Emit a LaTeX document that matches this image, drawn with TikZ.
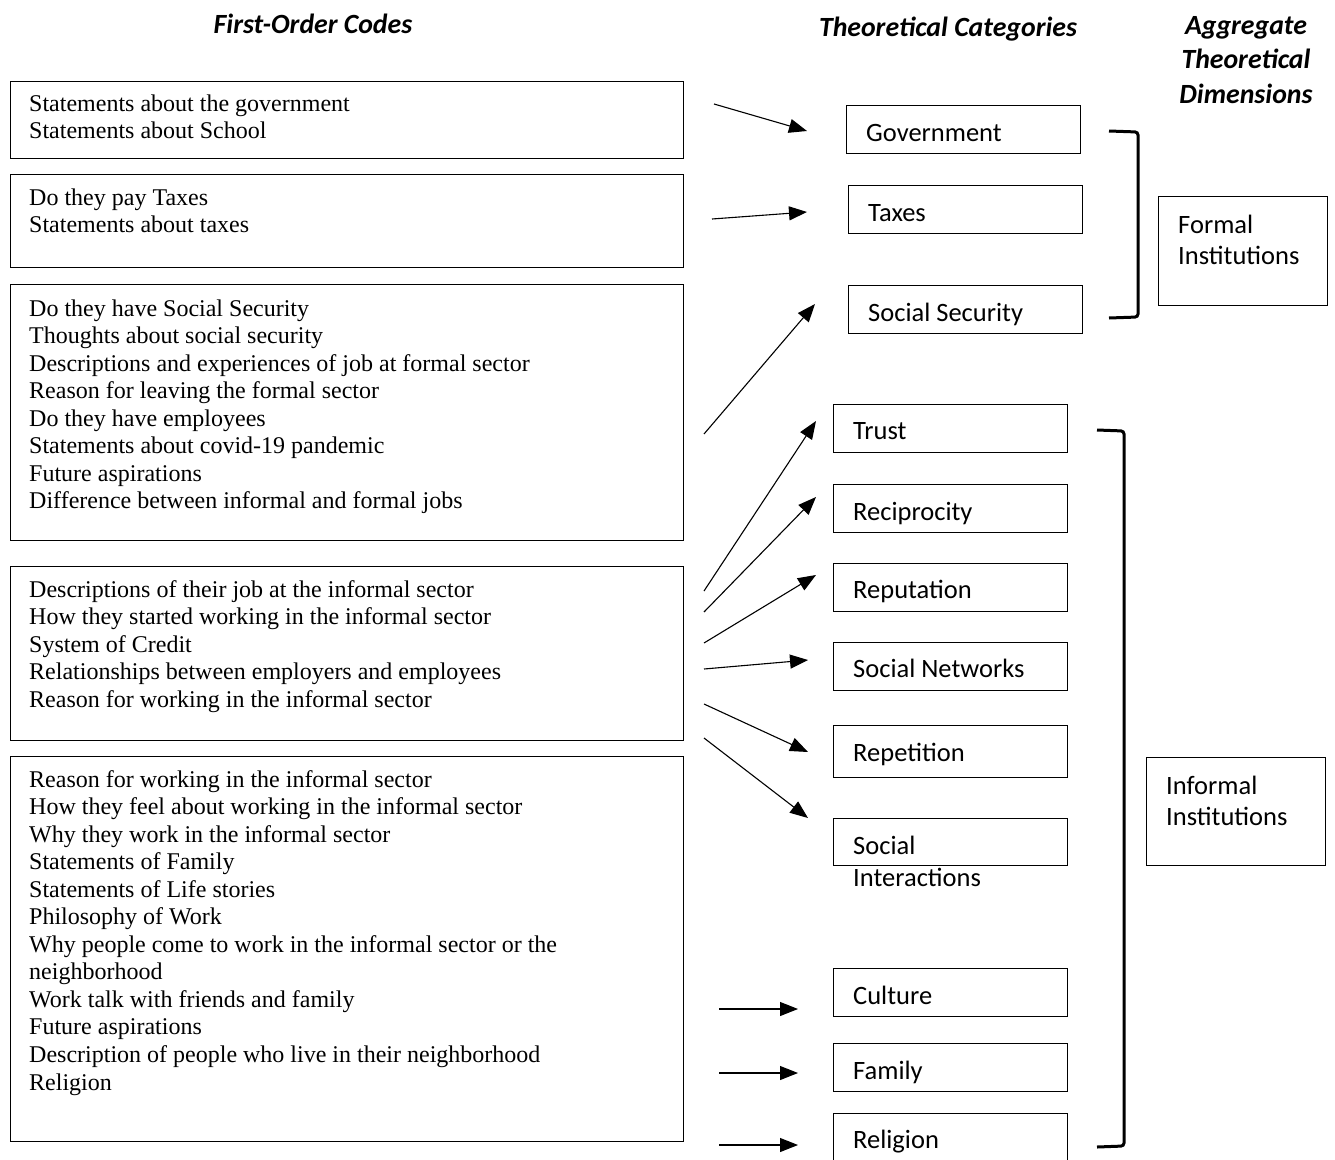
\documentclass[tikz,border=0pt]{standalone}
\usepackage{fontspec}
\setmainfont{Liberation Serif}
\newfontfamily\calfont{Carlito}
\usetikzlibrary{arrows.meta}
\begin{document}
\begin{tikzpicture}[x=1pt,y=-1pt,
  codebox/.style={draw, line width=1pt, anchor=north west, inner sep=0pt, rectangle},
  catbox/.style={draw, line width=1pt, anchor=north west, inner sep=0pt, rectangle, minimum width=234pt, minimum height=48pt},
  codetxt/.style={anchor=base west, align=left, inner sep=0pt, font=\fontsize{24}{27.55}\selectfont},
  cattxt/.style={anchor=base west, align=left, inner sep=0pt, font=\calfont\fontsize{26.5}{31}\selectfont},
  headtxt/.style={anchor=base, align=center, inner sep=0pt, font=\calfont\bfseries\itshape\fontsize{27.8}{34.5}\selectfont},
  arr/.style={line width=1.1pt, -{Triangle[length=18pt,width=14pt]}},
  brk/.style={line width=3pt, rounded corners=3pt}
]
\useasboundingbox (0,0) rectangle (1335,1159);
\clip (0,0) rectangle (1335,1159);

% headings (base anchor = baseline of the last line)
\node[headtxt] (h1) at (313,33) {First-Order Codes};
\node[headtxt] (h2) at (948,36) {Theoretical Categories};
\node[headtxt] (h3) at (1246,103) {Aggregate\\Theoretical\\Dimensions};

% first-order code boxes
\node[codebox, minimum width=673pt, minimum height=77pt] (c1) at (10,81) {};
\node[codetxt] (c1t) at (29,138.55) {Statements about the government\\Statements about School};
\node[codebox, minimum width=673pt, minimum height=93pt] (c2) at (10,174) {};
\node[codetxt] (c2t) at (29,232.55) {Do they pay Taxes\\Statements about taxes};
\node[codebox, minimum width=673pt, minimum height=256pt] (c3) at (10,284) {};
\node[codetxt] (c3t) at (29,508.85) {Do they have Social Security\\Thoughts about social security\\Descriptions and experiences of job at formal sector\\Reason for leaving the formal sector\\Do they have employees\\Statements about covid-19 pandemic\\Future aspirations\\Difference between informal and formal jobs};
\node[codebox, minimum width=673pt, minimum height=174pt] (c4) at (10,566) {};
\node[codetxt] (c4t) at (29,707.2) {Descriptions of their job at the informal sector\\How they started working in the informal sector\\System of Credit\\Relationships between employers and employees\\Reason for working in the informal sector};
\node[codebox, minimum width=673pt, minimum height=385pt] (c5) at (10,756) {};
\node[codetxt] (c5t) at (29,1090.05) {Reason for working in the informal sector\\How they feel about working in the informal sector\\Why they work in the informal sector\\Statements of Family\\Statements of Life stories\\Philosophy of Work\\Why people come to work in the informal sector or the\\neighborhood\\Work talk with friends and family\\Future aspirations\\Description of people who live in their neighborhood\\Religion};

% theoretical categories
\node[catbox] (gov) at (846,105) {};
\node[cattxt] (govt) at (866,141) {Government};
\node[catbox] (tax) at (848,185) {};
\node[cattxt] (taxt) at (868,221) {Taxes};
\node[catbox] (ss) at (848,285) {};
\node[cattxt] (sst) at (868,321) {Social Security};
\node[catbox] (tru) at (833,404) {};
\node[cattxt] (trut) at (853,439) {Trust};
\node[catbox] (rec) at (833,484) {};
\node[cattxt] (rect) at (853,520) {Reciprocity};
\node[catbox] (rep) at (833,563) {};
\node[cattxt] (rept) at (853,598) {Reputation};
\node[catbox] (sn) at (833,642) {};
\node[cattxt] (snt) at (853,677) {Social Networks};
\node[catbox, minimum height=52pt] (rpt) at (833,725) {};
\node[cattxt] (rptt) at (853,761) {Repetition};
\node[catbox, minimum height=47pt] (si) at (833,818) {};
\node[cattxt, font=\calfont\fontsize{26.5}{32}\selectfont] (sit) at (853,886) {Social\\Interactions};
\node[catbox] (cul) at (833,968) {};
\node[cattxt] (cult) at (853,1004) {Culture};
\node[catbox] (fam) at (833,1043) {};
\node[cattxt] (famt) at (853,1079) {Family};
\node[catbox, minimum height=60pt] (rel) at (833,1113) {};
\node[cattxt] (relt) at (853,1148) {Religion};

% aggregate dimensions
\node[codebox, minimum width=169pt, minimum height=109pt] (fi) at (1158,196) {};
\node[cattxt] (fit) at (1178,264) {Formal\\Institutions};
\node[codebox, minimum width=179pt, minimum height=108pt] (ii) at (1146,757) {};
\node[cattxt] (iit) at (1166,825) {Informal\\Institutions};

% brackets
\draw[brk] (1109,131) -- (1138,132) -- (1138,317) -- (1109,318);
\draw[brk] (1097,430) -- (1124,431) -- (1124,1146) -- (1097,1147);

% arrow end points
\coordinate (s1) at (714,104);  \coordinate (e1) at (807,131);
\coordinate (s2) at (712,219);  \coordinate (e2) at (807,212);
\coordinate (s3) at (704,434);  \coordinate (e3) at (815,304);
\coordinate (s4) at (704,591);  \coordinate (e4) at (816,421);
\coordinate (s5) at (704,612);  \coordinate (e5) at (816,497);
\coordinate (s6) at (704,643);  \coordinate (e6) at (816,575);
\coordinate (s7) at (704,669);  \coordinate (e7) at (808,660);
\coordinate (s8) at (704,704);  \coordinate (e8) at (808,752);
\coordinate (s9) at (704,738);  \coordinate (e9) at (808,818);
\coordinate (s10) at (719,1009); \coordinate (e10) at (798,1009);
\coordinate (s11) at (719,1073); \coordinate (e11) at (798,1073);
\coordinate (s12) at (719,1145); \coordinate (e12) at (798,1145);

\foreach \i in {1,...,12} { \draw[arr] (s\i) -- (e\i); }
\end{tikzpicture}
\end{document}
